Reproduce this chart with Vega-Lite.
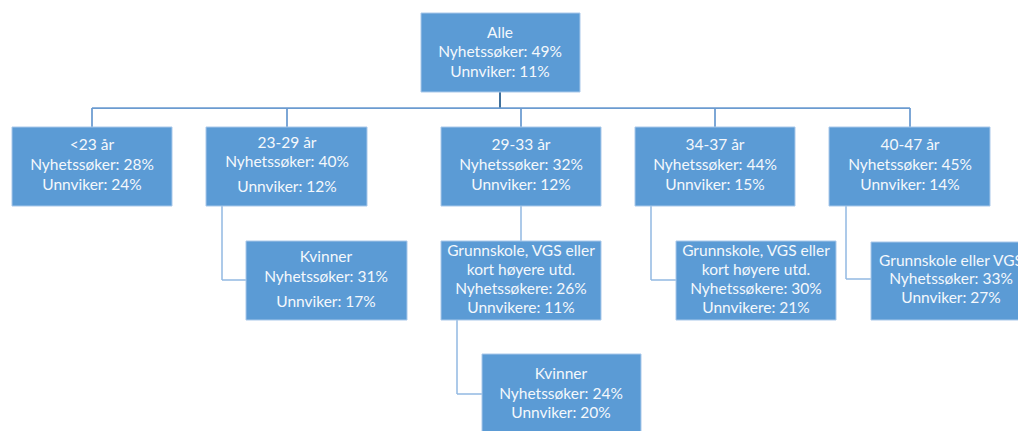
{
  "$schema": "https://vega.github.io/schema/vega-lite/v6.json",
  "width": 1018,
  "height": 431,
  "padding": 0,
  "autosize": {"type": "none"},
  "background": "#ffffff",
  "config": {"view": {"stroke": null}},
  "datasets": {
    "boxes": [
      {"id": "Alle", "x1": 421, "x2": 580, "y1": 13, "y2": 92},
      {"id": "<23", "x1": 12, "x2": 172, "y1": 127, "y2": 206},
      {"id": "23-29", "x1": 206, "x2": 367, "y1": 127, "y2": 206},
      {"id": "29-33", "x1": 441, "x2": 601, "y1": 127, "y2": 206},
      {"id": "34-37", "x1": 635, "x2": 795, "y1": 127, "y2": 206},
      {"id": "40-47", "x1": 829, "x2": 990, "y1": 127, "y2": 206},
      {"id": "K2329", "x1": 246, "x2": 407, "y1": 241, "y2": 320},
      {"id": "G2933", "x1": 441, "x2": 601, "y1": 241, "y2": 320},
      {"id": "G3437", "x1": 676, "x2": 836, "y1": 241, "y2": 320},
      {"id": "G4047", "x1": 871, "x2": 1031, "y1": 242, "y2": 320},
      {"id": "K2933", "x1": 482, "x2": 641, "y1": 354, "y2": 440}
    ],
    "links": [
      {"x1": 500, "x2": 500, "y1": 92, "y2": 108, "kind": "stem"},
      {"x1": 92, "x2": 910, "y1": 108, "y2": 108, "kind": "bar"},
      {"x1": 92, "x2": 92, "y1": 108, "y2": 127, "kind": "bar"},
      {"x1": 287, "x2": 287, "y1": 108, "y2": 127, "kind": "bar"},
      {"x1": 521, "x2": 521, "y1": 108, "y2": 127, "kind": "bar"},
      {"x1": 715, "x2": 715, "y1": 108, "y2": 127, "kind": "bar"},
      {"x1": 910, "x2": 910, "y1": 108, "y2": 127, "kind": "bar"},
      {"x1": 222, "x2": 222, "y1": 206, "y2": 280, "kind": "sub"},
      {"x1": 222, "x2": 246, "y1": 280, "y2": 280, "kind": "sub"},
      {"x1": 521, "x2": 521, "y1": 206, "y2": 241, "kind": "sub"},
      {"x1": 651, "x2": 651, "y1": 206, "y2": 280, "kind": "sub"},
      {"x1": 651, "x2": 676, "y1": 280, "y2": 280, "kind": "sub"},
      {"x1": 846, "x2": 846, "y1": 206, "y2": 279, "kind": "sub"},
      {"x1": 846, "x2": 871, "y1": 279, "y2": 279, "kind": "sub"},
      {"x1": 457, "x2": 457, "y1": 320, "y2": 394, "kind": "sub"},
      {"x1": 457, "x2": 482, "y1": 394, "y2": 394, "kind": "sub"}
    ],
    "labels": [
      {"x": 500, "y": 33, "t": "Alle"},
      {"x": 500, "y": 52, "t": "Nyhetssøker: 49%"},
      {"x": 500, "y": 72, "t": "Unnviker: 11%"},
      {"x": 92, "y": 145, "t": "<23 år"},
      {"x": 92, "y": 165, "t": "Nyhetssøker: 28%"},
      {"x": 92, "y": 185, "t": "Unnviker: 24%"},
      {"x": 287, "y": 143, "t": "23-29 år"},
      {"x": 287, "y": 162, "t": "Nyhetssøker: 40%"},
      {"x": 287, "y": 187, "t": "Unnviker: 12%"},
      {"x": 521, "y": 145, "t": "29-33 år"},
      {"x": 521, "y": 165, "t": "Nyhetssøker: 32%"},
      {"x": 521, "y": 185, "t": "Unnviker: 12%"},
      {"x": 715, "y": 145, "t": "34-37 år"},
      {"x": 715, "y": 165, "t": "Nyhetssøker: 44%"},
      {"x": 715, "y": 185, "t": "Unnviker: 15%"},
      {"x": 910, "y": 145, "t": "40-47 år"},
      {"x": 910, "y": 165, "t": "Nyhetssøker: 45%"},
      {"x": 910, "y": 185, "t": "Unnviker: 14%"},
      {"x": 326, "y": 257, "t": "Kvinner"},
      {"x": 326, "y": 277, "t": "Nyhetssøker: 31%"},
      {"x": 326, "y": 302, "t": "Unnviker: 17%"},
      {"x": 521, "y": 251, "t": "Grunnskole, VGS eller"},
      {"x": 521, "y": 270, "t": "kort høyere utd."},
      {"x": 521, "y": 289, "t": "Nyhetssøkere: 26%"},
      {"x": 521, "y": 308, "t": "Unnvikere: 11%"},
      {"x": 756, "y": 251, "t": "Grunnskole, VGS eller"},
      {"x": 756, "y": 270, "t": "kort høyere utd."},
      {"x": 756, "y": 289, "t": "Nyhetssøkere: 30%"},
      {"x": 756, "y": 308, "t": "Unnvikere: 21%"},
      {"x": 951, "y": 261, "t": "Grunnskole eller VGS"},
      {"x": 951, "y": 279, "t": "Nyhetssøker: 33%"},
      {"x": 951, "y": 298, "t": "Unnviker: 27%"},
      {"x": 561, "y": 374, "t": "Kvinner"},
      {"x": 561, "y": 394, "t": "Nyhetssøker: 24%"},
      {"x": 561, "y": 413, "t": "Unnviker: 20%"}
    ]
  },
  "layer": [
    {
      "data": {"name": "links"},
      "mark": {"type": "rule", "clip": true},
      "encoding": {
        "x": {"field": "x1", "type": "quantitative", "scale": {"domain": [0, 1018], "nice": false, "zero": false}, "axis": null},
        "x2": {"field": "x2"},
        "y": {"field": "y1", "type": "quantitative", "scale": {"domain": [0, 431], "reverse": true, "nice": false, "zero": false}, "axis": null},
        "y2": {"field": "y2"},
        "color": {"field": "kind", "type": "nominal", "scale": {"domain": ["stem", "bar", "sub"], "range": ["#41719C", "#6B9BD0", "#92B8E2"]}, "legend": null},
        "strokeWidth": {"field": "kind", "type": "nominal", "scale": {"domain": ["stem", "bar", "sub"], "range": [2, 1.5, 1.5]}, "legend": null}
      }
    },
    {
      "data": {"name": "boxes"},
      "mark": {"type": "rect", "clip": true, "fill": "#5B9BD5", "stroke": "#A9C8EA", "strokeWidth": 1},
      "encoding": {
        "x": {"field": "x1", "type": "quantitative", "axis": null},
        "x2": {"field": "x2"},
        "y": {"field": "y1", "type": "quantitative", "axis": null},
        "y2": {"field": "y2"}
      }
    },
    {
      "data": {"name": "labels"},
      "mark": {"type": "text", "clip": true, "align": "center", "baseline": "middle", "font": "Lato", "fontSize": 15.5, "color": "#F4F8FC"},
      "encoding": {
        "x": {"field": "x", "type": "quantitative", "axis": null},
        "y": {"field": "y", "type": "quantitative", "axis": null},
        "text": {"field": "t", "type": "nominal"}
      }
    }
  ]
}
